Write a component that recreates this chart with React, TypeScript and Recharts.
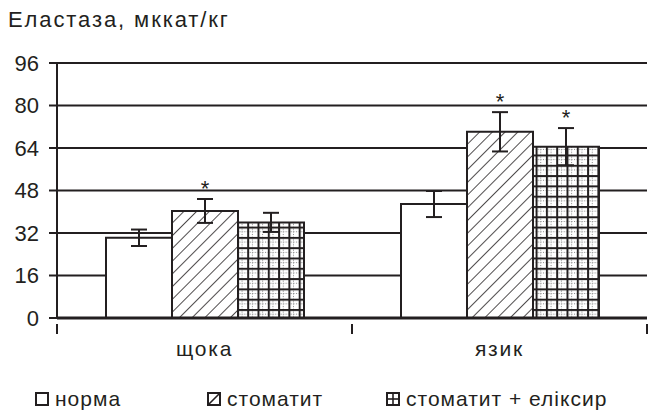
import React from "react";
import {
  Bar,
  BarChart,
  CartesianGrid,
  ErrorBar,
  LabelList,
  Legend,
  XAxis,
  YAxis,
} from "recharts";

const categories = ["щока", "язик"];
const normaValues = [30.2, 42.9];
const normaErrors = [3.1, 4.9];
const stomatitValues = [40.3, 70.1];
const stomatitErrors = [4.5, 7.4];
const elixirValues = [36.0, 64.5];
const elixirErrors = [3.6, 7.0];
const stomatitStars = [true, true];
const elixirStars = [false, true];
const yTicks = [0, 16, 32, 48, 64, 80, 96];
const seriesNames = ["норма", "стоматит", "стоматит + еліксир"];

const data = categories.map((name, i) => ({
  name,
  norma: normaValues[i],
  normaErr: normaErrors[i],
  stomatit: stomatitValues[i],
  stomatitErr: stomatitErrors[i],
  elixir: elixirValues[i],
  elixirErr: elixirErrors[i],
}));

const INK = "#231f20";
const FONT = "'Liberation Sans', Arial, sans-serif";

// asterisk above the error bar, placed with the bar's own pixels-per-unit
const starLabel = (errors: number[], stars: boolean[]) => (props: any) => {
  const { x, y, width, height, value, index } = props;
  if (!stars[index] || !value) return null;
  const perUnit = height / value;
  const top = y - errors[index] * perUnit;
  return (
    <text
      x={x + width / 2}
      y={top - 3}
      textAnchor="middle"
      fontSize={22}
      fontFamily={FONT}
      fill={INK}
    >
      *
    </text>
  );
};

const CategoryTick = (props: any) => {
  const { x, y, payload, index } = props;
  const half = payload?.offset ?? 147.5;
  return (
    <g>
      <line x1={x - half} y1={y - 2} x2={x - half} y2={y + 8} stroke={INK} strokeWidth={2} />
      {index === categories.length - 1 && (
        <line x1={x + half} y1={y - 2} x2={x + half} y2={y + 8} stroke={INK} strokeWidth={2} />
      )}
      <text
        x={x}
        y={y + 30}
        textAnchor="middle"
        fontSize={21}
        letterSpacing={1.8}
        fontFamily={FONT}
        fill={INK}
      >
        {payload.value}
      </text>
    </g>
  );
};

const LegendIcon = ({ kind }: { kind: number }) => (
  <svg width={14} height={14} style={{ display: "block" }}>
    <rect x={1} y={1} width={12} height={12} fill="#fff" stroke={INK} strokeWidth={2} />
    {kind === 1 && <line x1={1} y1={13} x2={13} y2={1} stroke={INK} strokeWidth={1.6} />}
    {kind === 2 && (
      <>
        <line x1={7} y1={1} x2={7} y2={13} stroke={INK} strokeWidth={1.6} />
        <line x1={1} y1={7} x2={13} y2={7} stroke={INK} strokeWidth={1.6} />
      </>
    )}
  </svg>
);

const slotWidths = [172, 179, 260];

const renderLegend = () => (
  <div
    style={{
      display: "flex",
      alignItems: "center",
      height: 30,
      paddingLeft: 35,
      fontFamily: FONT,
      fontSize: 21,
      letterSpacing: 1,
      color: INK,
    }}
  >
    {seriesNames.map((name, i) => (
      <div key={name} style={{ display: "flex", alignItems: "center", width: slotWidths[i] }}>
        <LegendIcon kind={i} />
        <span style={{ marginLeft: 6, whiteSpace: "nowrap" }}>{name}</span>
      </div>
    ))}
  </div>
);

export default function App() {
  return (
    <div style={{ position: "absolute", left: 0, top: 0, width: 648, height: 414, background: "#fff" }}>
      <div
        style={{
          position: "absolute",
          left: 8,
          top: 9,
          fontFamily: FONT,
          fontSize: 22,
          lineHeight: "22px",
          letterSpacing: 1.9,
          color: INK,
          whiteSpace: "nowrap",
        }}
      >
        Еластаза, мккат/кг
      </div>
      <BarChart
        width={648}
        height={414}
        data={data}
        margin={{ top: 63, right: 1, left: 0, bottom: 0 }}
        barSize={66}
        barGap={0}
      >
        <defs>
          <pattern id="hatch" width="9" height="9" patternUnits="userSpaceOnUse" patternTransform="rotate(45)">
            <rect width="9" height="9" fill="#fff" />
            <line x1="0" y1="0" x2="0" y2="9" stroke={INK} strokeWidth="1.6" />
          </pattern>
          <pattern id="grid" width="10.3" height="10.3" patternUnits="userSpaceOnUse">
            <rect width="10.3" height="10.3" fill="#fff" />
            <line x1="5.15" y1="0" x2="5.15" y2="10.3" stroke="#666" strokeWidth="0.8" strokeDasharray="1 1.5" />
            <line x1="0" y1="5.15" x2="10.3" y2="5.15" stroke="#666" strokeWidth="0.8" strokeDasharray="1 1.5" />
            <line x1="1" y1="0" x2="1" y2="10.3" stroke={INK} strokeWidth="2" />
            <line x1="0" y1="1" x2="10.3" y2="1" stroke={INK} strokeWidth="2" />
          </pattern>
        </defs>
        <CartesianGrid vertical={false} stroke={INK} strokeWidth={2} />
        <XAxis
          dataKey="name"
          height={66}
          axisLine={{ stroke: INK, strokeWidth: 3 }}
          tickLine={false}
          tick={<CategoryTick />}
          interval={0}
        />
        <YAxis
          width={57}
          domain={[0, 96]}
          ticks={yTicks}
          interval={0}
          tickSize={8}
          tickMargin={10}
          axisLine={{ stroke: INK, strokeWidth: 2 }}
          tickLine={{ stroke: INK, strokeWidth: 2 }}
          tick={{ fill: INK, fontSize: 22, fontFamily: FONT }}
        />
        <Legend verticalAlign="bottom" height={30} content={renderLegend} />
        <Bar dataKey="norma" name={seriesNames[0]} fill="#fff" stroke={INK} strokeWidth={2} isAnimationActive={false}>
          <ErrorBar dataKey="normaErr" width={8} stroke={INK} strokeWidth={2} />
        </Bar>
        <Bar dataKey="stomatit" name={seriesNames[1]} fill="url(#hatch)" stroke={INK} strokeWidth={2} isAnimationActive={false}>
          <ErrorBar dataKey="stomatitErr" width={8} stroke={INK} strokeWidth={2} />
          <LabelList dataKey="stomatit" content={starLabel(stomatitErrors, stomatitStars)} />
        </Bar>
        <Bar dataKey="elixir" name={seriesNames[2]} fill="url(#grid)" stroke={INK} strokeWidth={2} isAnimationActive={false}>
          <ErrorBar dataKey="elixirErr" width={8} stroke={INK} strokeWidth={2} />
          <LabelList dataKey="elixir" content={starLabel(elixirErrors, elixirStars)} />
        </Bar>
      </BarChart>
    </div>
  );
}
